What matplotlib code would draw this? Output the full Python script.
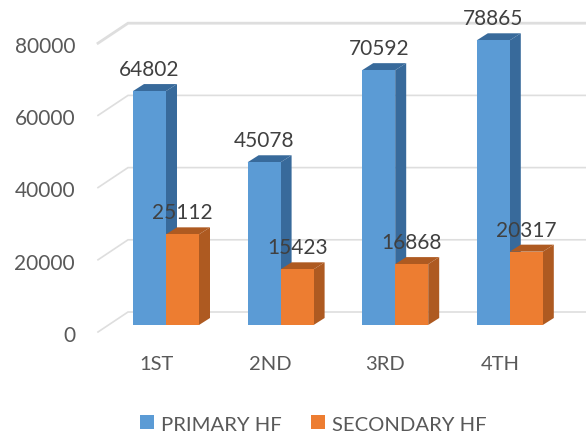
import matplotlib
matplotlib.use("Agg")
import matplotlib.pyplot as plt
from matplotlib.patches import Polygon, Patch

categories = ["1ST", "2ND", "3RD", "4TH"]
primary = [64802, 45078, 70592, 78865]
secondary = [25112, 15423, 16868, 20317]
y_ticks = [0, 20000, 40000, 60000, 80000]
series_names = ["PRIMARY HF", "SECONDARY HF"]

W, H = 586, 435
FONT = "Lato"
plt.rcParams["font.family"] = [FONT, "DejaVu Sans"]

# pixel geometry of the oblique view
X0 = 166.0      # boundary of the two bars of the first group
XSTEP = 114.6   # px per category
Y0 = 326.0      # front baseline
YSCALE = 0.00361  # px per value unit
BAR = 33.0
DX, DY = 11.0, 7.0

fig = plt.figure(figsize=(W / 100, H / 100), dpi=100, facecolor="white")
ax = fig.add_axes([0, 0, 1, 1])
ax.set_xlim(-X0 / XSTEP, (W - X0) / XSTEP)
ax.set_ylim(-(H - Y0) / YSCALE, Y0 / YSCALE)
ax.axis("off")

ux = 1 / XSTEP            # one px along x in data units
uy = 1 / YSCALE           # one px along y in data units


def px_x(px):
    return (px - X0) * ux


# wall + gridlines
GRID = "#dedede"
for t in y_ticks:
    lw = 2.0 if t == y_ticks[-1] else 1.2
    ax.plot([px_x(98), px_x(128), px_x(586)],
            [t - 7 * uy, t + 13 * uy, t + 13 * uy],
            color=GRID, lw=lw, solid_joinstyle="miter", zorder=1)
    ax.annotate(str(t), (px_x(75), t), xytext=(0, -7.0), textcoords="offset points",
                ha="right", va="center", fontsize=15, color="#595959", zorder=6)


def bar3d(i, left_px, value, front, side, z):
    c = i + left_px * ux
    w = BAR * ux
    dx, dy = DX * ux, DY * uy
    ax.add_patch(Polygon([(c, 0), (c + w, 0), (c + w, value), (c, value)],
                         closed=True, fc=front, ec="none", zorder=z + 0.2))
    ax.add_patch(Polygon([(c + w, 0), (c + w + dx, dy), (c + w + dx, value + dy), (c + w, value)],
                         closed=True, fc=side, ec="none", zorder=z))
    ax.add_patch(Polygon([(c, value), (c + dx, value + dy), (c + w + dx, value + dy), (c + w, value)],
                         closed=True, fc=side, ec="none", zorder=z + 0.1))
    ax.annotate(str(value), (c + w / 2, value), xytext=(0, 22 * 0.72),
                textcoords="offset points", ha="center", va="center",
                fontsize=15, color="#404040", zorder=7)


BLUE, BLUE_D = "#5b9bd5", "#386a9b"
ORANGE, ORANGE_D = "#ed7d31", "#ae5a21"
for i, (p, s) in enumerate(zip(primary, secondary)):
    bar3d(i, -BAR, p, BLUE, BLUE_D, 2 + i)
    bar3d(i, 0, s, ORANGE, ORANGE_D, 3 + i)

for i, c in enumerate(categories):
    ax.annotate(c, (i - 10 * ux, -39 * uy), ha="center", va="center",
                fontsize=14.5, color="#595959", zorder=6)

handles = [Patch(fc=BLUE, ec="none"), Patch(fc=ORANGE, ec="none")]
ax.legend(handles, series_names, loc="center",
          bbox_to_anchor=(313.5 / W, 1 - 425 / H), ncol=2, frameon=False,
          fontsize=14.6, labelcolor="#595959", handlelength=0.69, handleheight=0.69,
          handletextpad=0.35, columnspacing=1.43, borderpad=0, borderaxespad=0)

fig.savefig("out.png", dpi=100)
